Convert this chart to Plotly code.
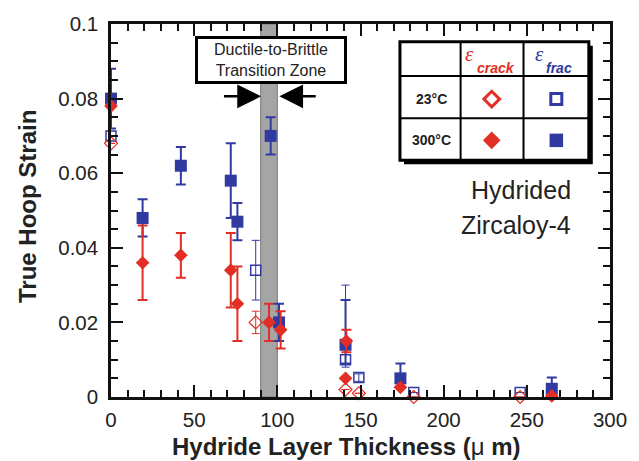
import plotly.graph_objects as go

# ---------------- data ----------------
# epsilon_frac, 300 C (filled blue squares)
frac300_x = [0, 19, 42, 72, 76, 96, 101, 141, 174, 265]
frac300_y = [0.080, 0.048, 0.062, 0.058, 0.047, 0.070, 0.020, 0.014, 0.005, 0.0022]
frac300_ep = [0.008, 0.005, 0.005, 0.010, 0.005, 0.005, 0.005, 0.012, 0.004, 0.003]
frac300_em = [0.008, 0.005, 0.005, 0.010, 0.005, 0.005, 0.005, 0.005, 0.0, 0.0]

# epsilon_crack, 300 C (filled red diamonds)
crack300_x = [0, 19, 42, 72, 76, 95, 102, 141.5, 141, 174, 265]
crack300_y = [0.078, 0.036, 0.038, 0.034, 0.025, 0.020, 0.018, 0.015, 0.005, 0.0026, 0.0003]
crack300_ep = [0, 0.010, 0.006, 0.010, 0.010, 0.005, 0.005, 0.003, 0, 0, 0]
crack300_em = [0, 0.010, 0.006, 0.010, 0.010, 0.005, 0.005, 0.003, 0, 0, 0]

# epsilon_frac, 23 C (open blue squares)
frac23_x = [0, 87, 141, 149, 182, 246]
frac23_y = [0.070, 0.034, 0.010, 0.0052, 0.0012, 0.0012]
frac23_ep = [0, 0.008, 0.020, 0.001, 0, 0]
frac23_em = [0, 0.008, 0.002, 0.001, 0, 0]

# epsilon_crack, 23 C (open red diamonds)
crack23_x = [0, 87, 141, 149, 182, 246]
crack23_y = [0.068, 0.020, 0.002, 0.001, 0.0, 0.0]
crack23_ep = [0, 0.003, 0, 0, 0, 0]
crack23_em = [0, 0.003, 0, 0, 0, 0]

transition_zone = [90, 100]

x_ticks = [0, 50, 100, 150, 200, 250, 300]
y_ticks = [0, 0.02, 0.04, 0.06, 0.08, 0.1]
y_ticktext = ["0", "0.02", "0.04", "0.06", "0.08", "0.1"]

# ---------------- style ----------------
BLUE = "rgb(48,58,160)"
RED = "rgb(226,46,36)"
FONT = "Liberation Sans, Arial, sans-serif"

W, H = 639, 461
L, R, T, B = 111, 26, 21, 64
PW, PH = W - L - R, H - T - B


def px(x):
    return (x - L) / PW


def py(y):
    return (H - B - y) / PH


fig = go.Figure()

fig.add_trace(go.Scatter(
    x=frac23_x, y=frac23_y, mode="markers", cliponaxis=False,
    marker=dict(symbol="square-open", size=10, color=BLUE, line=dict(width=1.5, color=BLUE)),
    error_y=dict(type="data", symmetric=False, array=frac23_ep, arrayminus=frac23_em,
                 color=BLUE, thickness=1, width=4),
))
fig.add_trace(go.Scatter(
    x=crack23_x, y=crack23_y, mode="markers", cliponaxis=False,
    marker=dict(symbol="diamond-open", size=10, color=RED, line=dict(width=1.2, color=RED)),
    error_y=dict(type="data", symmetric=False, array=crack23_ep, arrayminus=crack23_em,
                 color=RED, thickness=1, width=4),
))
fig.add_trace(go.Scatter(
    x=frac300_x, y=frac300_y, mode="markers", cliponaxis=False,
    marker=dict(symbol="square", size=12, color=BLUE),
    error_y=dict(type="data", symmetric=False, array=frac300_ep, arrayminus=frac300_em,
                 color=BLUE, thickness=2, width=5),
))
fig.add_trace(go.Scatter(
    x=crack300_x, y=crack300_y, mode="markers", cliponaxis=False,
    marker=dict(symbol="diamond", size=10.5, color=RED),
    error_y=dict(type="data", symmetric=False, array=crack300_ep, arrayminus=crack300_em,
                 color=RED, thickness=2, width=5),
))

# legend-table keys on an overlay pixel axis
for kx, ky, sym, sz, col, lw in [
    (494, 96.7, "diamond-open", 12, RED, 3),
    (559, 96.7, "square-open", 11, BLUE, 3),
    (494, 138.3, "diamond", 13.5, RED, 0),
    (559, 138.3, "square", 13.5, BLUE, 0),
]:
    fig.add_trace(go.Scatter(
        x=[kx], y=[ky], xaxis="x2", yaxis="y2", mode="markers", cliponaxis=False,
        hoverinfo="skip", opacity=1,
        marker=dict(symbol=sym, size=sz, color=col, opacity=1, line=dict(width=lw, color=col)),
    ))

shapes = []
# transition zone band
shapes.append(dict(type="rect", xref="x", yref="paper", x0=transition_zone[0], x1=transition_zone[1],
                   y0=0, y1=1, fillcolor="rgb(165,165,165)", line=dict(width=1, color="rgb(120,120,120)"),
                   layer="below"))

# table
tx0, tx1, ty0, ty1 = 401.7, 591.7, 39, 158.3
shapes.append(dict(type="rect", xref="paper", yref="paper", x0=px(tx0 + 4), x1=px(tx1 + 4),
                   y0=py(ty1 + 4), y1=py(ty0 + 4), fillcolor="black", line=dict(width=0),
                   layer="below"))
shapes.append(dict(type="rect", xref="paper", yref="paper", x0=px(tx0), x1=px(tx1),
                   y0=py(ty1), y1=py(ty0), fillcolor="white", line=dict(width=3, color="black"),
                   layer="below"))
for cx in [462.7, 526]:
    shapes.append(dict(type="line", xref="paper", yref="paper", x0=px(cx), x1=px(cx),
                       y0=py(ty1), y1=py(ty0), line=dict(width=2, color="black"), layer="below"))
for ry in [73.3, 116]:
    shapes.append(dict(type="line", xref="paper", yref="paper", x0=px(tx0), x1=px(tx1),
                       y0=py(ry), y1=py(ry), line=dict(width=2, color="black"), layer="below"))

annotations = []
# axis titles
annotations.append(dict(text="<b>Hydride Layer Thickness (</b>μ <b>m)</b>", xref="paper", yref="paper",
                        x=px(348), y=py(447), xanchor="center", yanchor="middle", showarrow=False,
                        font=dict(size=24, color="#222", family=FONT)))
annotations.append(dict(text="<b>True Hoop Strain</b>", xref="paper", yref="paper",
                        x=px(27), y=py(205), xanchor="center", yanchor="middle", showarrow=False,
                        textangle=-90, font=dict(size=24, color="#222", family=FONT)))
# transition zone box
annotations.append(dict(text="Ductile-to-Brittle<br>Transition Zone", xref="paper", yref="paper",
                        x=px(272), y=py(57), xanchor="center", yanchor="middle", showarrow=False,
                        bgcolor="white", bordercolor="black", borderwidth=3, borderpad=0,
                        width=146, height=42, font=dict(size=16, color="#222", family=FONT)))
# arrows
annotations.append(dict(x=90.2, y=0.0806, ax=67, ay=0.0806, xref="x", yref="y", axref="x", ayref="y",
                        text="", showarrow=True, arrowhead=2, arrowsize=1.9, arrowwidth=2.5,
                        arrowcolor="black"))
annotations.append(dict(x=101.2, y=0.0806, ax=124, ay=0.0806, xref="x", yref="y", axref="x", ayref="y",
                        text="", showarrow=True, arrowhead=2, arrowsize=1.9, arrowwidth=2.5,
                        arrowcolor="black"))
# Hydrided Zircaloy-4
annotations.append(dict(text="Hydrided", xref="paper", yref="paper", x=px(576), y=py(188),
                        xanchor="right", yanchor="middle", showarrow=False,
                        font=dict(size=25, color="#222", family=FONT)))
annotations.append(dict(text="Zircaloy-4", xref="paper", yref="paper", x=px(576), y=py(224),
                        xanchor="right", yanchor="middle", showarrow=False,
                        font=dict(size=25, color="#222", family=FONT)))
# table texts
for name, cxe, col in [("crack", 471.7, RED), ("frac", 541.7, BLUE)]:
    annotations.append(dict(text="<i>ε</i>", xref="paper", yref="paper", x=px(cxe), y=py(51),
                            xanchor="center", yanchor="middle", showarrow=False,
                            font=dict(size=21, color=col, family="Liberation Serif, serif")))
    annotations.append(dict(text="<b><i>" + name + "</i></b>", xref="paper", yref="paper",
                            x=px(cxe + 5), y=py(65), xanchor="left", yanchor="middle", showarrow=False,
                            font=dict(size=14, color=col, family=FONT)))
annotations.append(dict(text="<b>23°C</b>", xref="paper", yref="paper", x=px(433), y=py(96.7),
                        xanchor="center", yanchor="middle", showarrow=False,
                        font=dict(size=14, color="#222", family=FONT)))
annotations.append(dict(text="<b>300°C</b>", xref="paper", yref="paper", x=px(433), y=py(138.3),
                        xanchor="center", yanchor="middle", showarrow=False,
                        font=dict(size=14, color="#222", family=FONT)))

axis_common = dict(showline=True, linewidth=2.5, linecolor="#111", mirror="allticks",
                   ticks="inside", ticklen=12, tickwidth=2.2, tickcolor="#111",
                   showgrid=False, zeroline=False,
                   tickfont=dict(size=20.5, color="#222", family=FONT))

fig.update_layout(
    width=W, height=H,
    margin=dict(l=L, r=R, t=T, b=B),
    paper_bgcolor="white", plot_bgcolor="white",
    showlegend=False,
    font=dict(family=FONT),
    xaxis=dict(range=[0, 300], tickvals=x_ticks, ticklabelstandoff=3,
               minor=dict(ticks="inside", dtick=10, ticklen=7, tickwidth=2, tickcolor="#111"),
               **axis_common),
    yaxis=dict(range=[0, 0.1], tickvals=y_ticks, ticktext=y_ticktext, ticklabelstandoff=6,
               minor=dict(ticks="inside", dtick=0.005, ticklen=7, tickwidth=2, tickcolor="#111"),
               **axis_common),
    xaxis2=dict(range=[L, W - R], overlaying="x", visible=False, fixedrange=True),
    yaxis2=dict(range=[H - B, T], overlaying="y", visible=False, fixedrange=True),
    shapes=shapes,
    annotations=annotations,
)

fig.write_html("out.html", config={"displayModeBar": False},
               post_script="document.body.style.margin='0';document.body.style.overflow='hidden';")
